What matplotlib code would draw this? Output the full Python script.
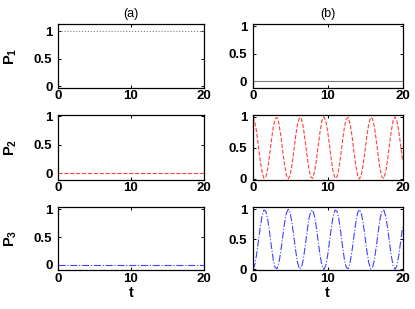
import numpy as np
import matplotlib
matplotlib.use('agg')
import matplotlib.pyplot as plt

plt.rcParams['font.family'] = ['Liberation Sans', 'DejaVu Sans']
plt.rcParams['mathtext.fontset'] = 'custom'
plt.rcParams['mathtext.rm'] = 'Liberation Sans:bold'
plt.rcParams['mathtext.it'] = 'Liberation Sans:bold'
plt.rcParams['mathtext.bf'] = 'Liberation Sans:bold'

# time grid (step 0.25)
t = np.arange(0, 20.001, 0.25)

# panel (a): populations stay put
p1_a = [1.0] * len(t)
p2_a = [0.0] * len(t)
p3_a = [0.0] * len(t)

# panel (b): P1 empty, P2/P3 swap back and forth
p1_b = [0.0] * len(t)
p2_b = [1.00, 0.94, 0.77, 0.54, 0.30, 0.11, 0.01, 0.03, 0.16, 0.38,
        0.62, 0.84, 0.97, 0.99, 0.89, 0.70, 0.46, 0.23, 0.06, 0.00,
        0.06, 0.23, 0.46, 0.70, 0.89, 0.99, 0.97, 0.84, 0.62, 0.38,
        0.16, 0.03, 0.01, 0.11, 0.30, 0.54, 0.77, 0.94,
        1.00, 0.94, 0.77, 0.54, 0.30, 0.11, 0.01, 0.03, 0.16, 0.38,
        0.62, 0.84, 0.97, 0.99, 0.89, 0.70, 0.46, 0.23, 0.06, 0.00,
        0.06, 0.23, 0.46, 0.70, 0.89, 0.99, 0.97, 0.84, 0.62, 0.38,
        0.16, 0.03, 0.01, 0.11, 0.30, 0.54, 0.77, 0.94,
        1.00, 0.94, 0.77, 0.54, 0.30]
p3_b = [0.00, 0.06, 0.23, 0.46, 0.70, 0.89, 0.99, 0.97, 0.84, 0.62,
        0.38, 0.16, 0.03, 0.01, 0.11, 0.30, 0.54, 0.77, 0.94, 1.00,
        0.94, 0.77, 0.54, 0.30, 0.11, 0.01, 0.03, 0.16, 0.38, 0.62,
        0.84, 0.97, 0.99, 0.89, 0.70, 0.46, 0.23, 0.06,
        0.00, 0.06, 0.23, 0.46, 0.70, 0.89, 0.99, 0.97, 0.84, 0.62,
        0.38, 0.16, 0.03, 0.01, 0.11, 0.30, 0.54, 0.77, 0.94, 1.00,
        0.94, 0.77, 0.54, 0.30, 0.11, 0.01, 0.03, 0.16, 0.38, 0.62,
        0.84, 0.97, 0.99, 0.89, 0.70, 0.46, 0.23, 0.06,
        0.00, 0.06, 0.23, 0.46, 0.70]

ylabels = ['$P_1$', '$P_2$', '$P_3$']
titles = ['(a)', '(b)']

W, H = 415, 309
fig = plt.figure(figsize=(W / 100, H / 100), dpi=100)

# pixel boxes: (left, right) per column, (top, bottom) per row
cols = [(58, 204), (252.7, 402.5)]
rows = [(24.3, 87.7), (115, 179.5), (207, 270)]
ylims = [[(-0.03, 1.13), (-0.12, 1.04)],
         [(-0.11, 1.02), (-0.01, 1.03)],
         [(-0.09, 1.04), (-0.01, 1.04)]]

series = [[(p1_a, 'gray', ':'), (p1_b, 'gray', '-')],
          [(p2_a, '#ff4040', '--'), (p2_b, '#ff4040', '--')],
          [(p3_a, '#4040ff', '-.'), (p3_b, '#4040ff', '-.')]]

for r, (top, bot) in enumerate(rows):
    for c, (lft, rgt) in enumerate(cols):
        ax = fig.add_axes([lft / W, 1 - bot / H, (rgt - lft) / W, (bot - top) / H])
        y, col, ls = series[r][c]
        ax.plot(t, y, color=col, ls=ls, lw=0.8)
        ax.set_xlim(0, 20)
        ax.set_ylim(*ylims[r][c])
        ax.set_xticks([0, 10, 20])
        ax.set_yticks([0, 0.5, 1])
        ax.set_yticklabels(['0', '0.5', '1'])
        ax.tick_params(direction='in', length=2.5, width=0.7, top=True, right=True,
                       labelsize=9.5)
        ax.tick_params(axis='x', pad=2)
        ax.tick_params(axis='y', pad=4)
        for lab in ax.get_xticklabels() + ax.get_yticklabels():
            lab.set_fontweight('bold')
        for sp in ax.spines.values():
            sp.set_linewidth(0.9)
        if r == 0:
            ax.set_title(titles[c], fontsize=9, pad=5)
        if r == 2:
            ax.set_xlabel('t', fontsize=10.5, fontweight='bold', labelpad=1)
        if c == 0:
            fig.text(11 / W, 1 - (top + bot) / 2 / H, ylabels[r], rotation=90,
                     ha='center', va='center', fontsize=10.5)

fig.savefig('out.png', dpi=100)
